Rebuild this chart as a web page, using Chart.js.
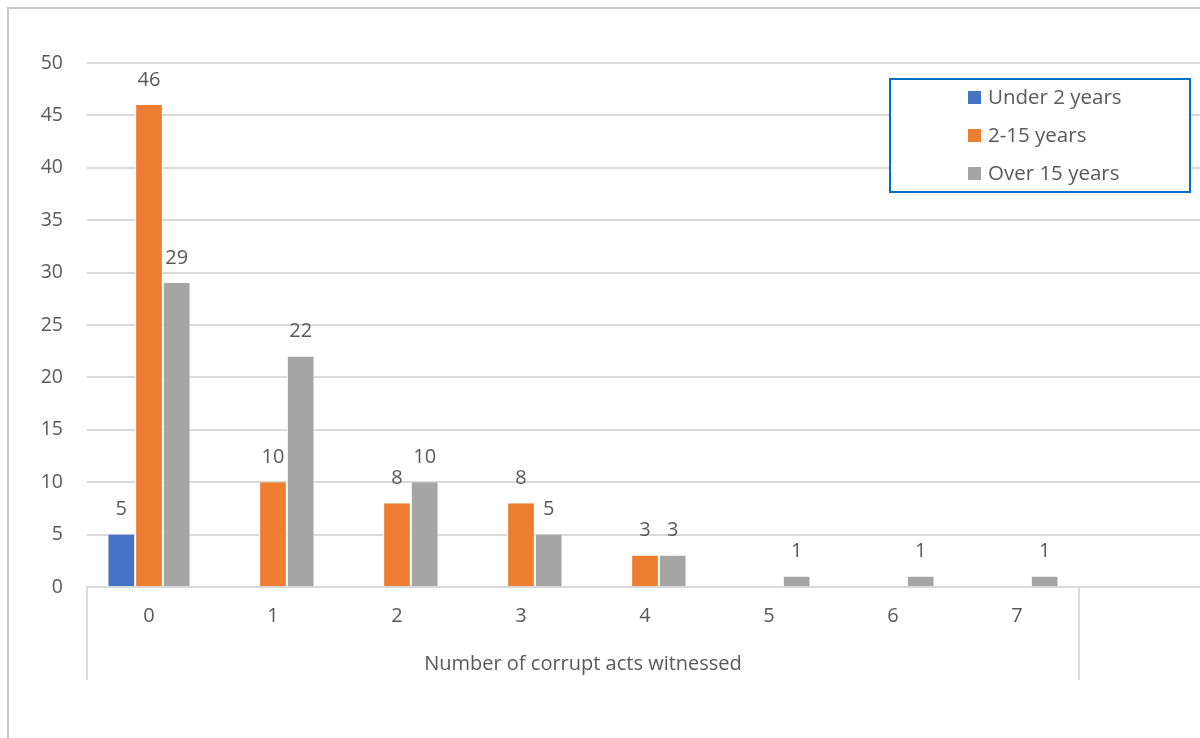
<!DOCTYPE html>
<html>
<head>
<meta charset="utf-8">
<script src="https://cdn.jsdelivr.net/npm/chart.js@4.4.1/dist/chart.umd.min.js"></script>
<style>
  html, body { margin: 0; padding: 0; background: #fff; overflow: hidden; }
  #wrap { position: relative; width: 1200px; height: 738px; overflow: hidden; }
  canvas { display: block; }
</style>
</head>
<body>
<div id="wrap"><canvas id="grafico" width="1220" height="738"></canvas></div>
<script>
// Categorías (la última queda vacía)
const categorias = ['0', '1', '2', '3', '4', '5', '6', '7', ''];
const series = ['Under 2 years', '2-15 years', 'Over 15 years'];
const menos2 = [5, 0, 0, 0, 0, 0, 0, 0];
const de2a15 = [46, 10, 8, 8, 3, 0, 0, 0];
const mas15 = [29, 22, 10, 5, 3, 1, 1, 1];
const colores = ['#4472c4', '#ed7d31', '#a5a5a5'];
const tituloEje = 'Number of corrupt acts witnessed';

const fuente = '"Open Sans", "Noto Sans", sans-serif';
const gris = '#595959';
const lineaGris = '#d9d9d9';

// Marco exterior, cajas del eje de categorías y título del eje
const marco = {
    id: 'marco',
    beforeDraw(chart) {
        const ctx = chart.ctx;
        ctx.save();
        ctx.strokeStyle = '#c9c9c9';
        ctx.lineWidth = 2;
        ctx.beginPath();
        ctx.moveTo(8, 740);
        ctx.lineTo(8, 8);
        ctx.lineTo(1230, 8);
        ctx.stroke();
        ctx.restore();
    },
    afterDraw(chart) {
        const ctx = chart.ctx;
        const x = chart.scales.x;
        const y0 = chart.chartArea.bottom;
        const izq = x.getPixelForValue(-0.5);
        const der = x.getPixelForValue(7.5);
        ctx.save();
        ctx.strokeStyle = lineaGris;
        ctx.lineWidth = 2;
        [izq, der].forEach(px => {
            ctx.beginPath();
            ctx.moveTo(Math.round(px), y0);
            ctx.lineTo(Math.round(px), y0 + 93);
            ctx.stroke();
        });
        ctx.fillStyle = gris;
        ctx.font = '20px ' + fuente;
        ctx.textAlign = 'center';
        ctx.textBaseline = 'middle';
        ctx.fillText(tituloEje, (izq + der) / 2, y0 + 77);
        ctx.restore();
    }
};

// Etiquetas de valor encima de cada barra (se omiten los ceros)
const etiquetas = {
    id: 'etiquetas',
    afterDatasetsDraw(chart) {
        const ctx = chart.ctx;
        ctx.save();
        ctx.fillStyle = gris;
        ctx.font = '20px ' + fuente;
        ctx.textAlign = 'center';
        ctx.textBaseline = 'middle';
        chart.data.datasets.forEach((ds, i) => {
            chart.getDatasetMeta(i).data.forEach((bar, j) => {
                const v = ds.data[j];
                if (!v) return;
                ctx.fillText(String(v), bar.x, bar.y - 25);
            });
        });
        ctx.restore();
    }
};

// Leyenda con recuadro azul
const leyenda = {
    id: 'leyenda',
    afterDraw(chart) {
        const ctx = chart.ctx;
        ctx.save();
        ctx.fillStyle = '#fff';
        ctx.fillRect(890, 79, 300, 113);
        ctx.strokeStyle = '#0070c0';
        ctx.lineWidth = 2;
        ctx.strokeRect(890, 79, 300, 113);
        ctx.font = '20.5px ' + fuente;
        ctx.textBaseline = 'middle';
        ctx.textAlign = 'left';
        series.forEach((s, i) => {
            const yc = 98 + i * 38;
            ctx.fillStyle = colores[i];
            ctx.fillRect(968, yc - 7, 13, 13);
            ctx.fillStyle = gris;
            ctx.fillText(s, 988, yc);
        });
        ctx.restore();
    }
};

const ctx = document.getElementById('grafico').getContext('2d');
new Chart(ctx, {
    type: 'bar',
    data: {
        labels: categorias,
        datasets: [
            { label: series[0], data: menos2, backgroundColor: colores[0] },
            { label: series[1], data: de2a15, backgroundColor: colores[1] },
            { label: series[2], data: mas15, backgroundColor: colores[2] }
        ]
    },
    options: {
        responsive: false,
        animation: false,
        devicePixelRatio: 1,
        layout: { padding: { top: 63, right: 17, bottom: 58, left: 0 } },
        datasets: {
            bar: {
                categoryPercentage: 0.67,
                barPercentage: 1,
                borderWidth: { left: 1, right: 1, top: 0, bottom: 0 },
                borderColor: '#ffffff'
            }
        },
        scales: {
            x: {
                grid: { display: false, drawTicks: false },
                border: { display: true, color: lineaGris, width: 2 },
                ticks: { color: gris, font: { family: fuente, size: 20 }, padding: 17, maxRotation: 0 },
                afterFit(scale) { scale.height = 93; }
            },
            y: {
                min: 0,
                max: 50,
                grid: { color: lineaGris, lineWidth: 2, drawTicks: false },
                border: { display: false },
                ticks: { stepSize: 5, color: gris, font: { family: fuente, size: 19.5 }, padding: 24 },
                afterFit(scale) { scale.width = 87; }
            }
        },
        plugins: {
            legend: { display: false },
            tooltip: { enabled: false }
        }
    },
    plugins: [marco, etiquetas, leyenda]
});
</script>
</body>
</html>
